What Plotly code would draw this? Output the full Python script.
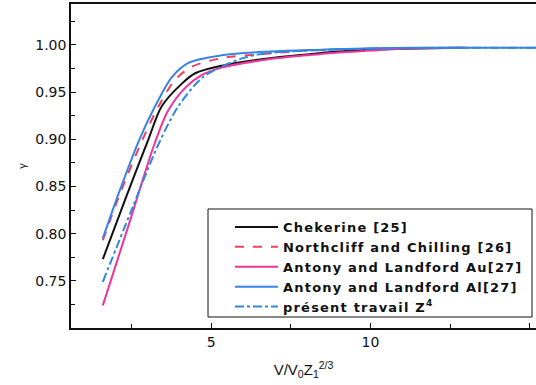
import plotly.graph_objects as go

# Series data (x = V/V0 Z1^(2/3), y = gamma)
chek_x = [1.6, 2.3, 3.03, 3.45, 4.08, 4.5, 5.33, 6.85, 8.0, 9.0, 10.0, 11.0, 12.8]
chek_y = [0.773, 0.836, 0.900, 0.935, 0.959, 0.970, 0.978, 0.986, 0.990, 0.993, 0.995, 0.996, 0.997]

north_x = [1.6, 2.1, 2.85, 3.35, 3.87, 4.4, 5.33, 6.5, 8.0, 10.0, 13.0]
north_y = [0.793, 0.839, 0.900, 0.935, 0.963, 0.977, 0.986, 0.990, 0.994, 0.996, 0.997]

au_x = [1.6, 2.4, 3.22, 3.66, 4.2, 4.7, 5.33, 6.85, 8.0, 9.0, 10.0, 11.0, 13.0]
au_y = [0.724, 0.808, 0.895, 0.931, 0.955, 0.968, 0.976, 0.985, 0.989, 0.992, 0.994, 0.996, 0.997]

al_x = [1.6, 2.1, 2.75, 3.24, 3.77, 4.29, 5.33, 6.85, 8.5, 10.0, 12.0, 15.2]
al_y = [0.795, 0.843, 0.900, 0.935, 0.966, 0.981, 0.989, 0.993, 0.995, 0.9965, 0.997, 0.997]

pres_x = [1.6, 2.5, 3.35, 3.97, 4.71, 5.33, 6.0, 6.5, 7.0, 8.0, 10.0, 12.0, 15.2]
pres_y = [0.749, 0.825, 0.895, 0.935, 0.965, 0.977, 0.986, 0.990, 0.992, 0.994, 0.996, 0.997, 0.997]

names = ["Chekerine [25]", "Northcliff and Chilling [26]", "Antony and Landford Au[27]",
         "Antony and Landford Al[27]", "présent travail Z<sup>4</sup>"]

x_ticks = [5, 10, 15]
y_ticks = [0.75, 0.80, 0.85, 0.90, 0.95, 1.00]

fig = go.Figure()
series = [
    (chek_x, chek_y, "#111111", "solid"),
    (north_x, north_y, "#f0405a", "dash"),
    (au_x, au_y, "#ee3399", "solid"),
    (al_x, al_y, "#3a82e6", "solid"),
    (pres_x, pres_y, "#2a8ae0", "dashdot"),
]
for (xs, ys, col, dash), nm in zip(series, names):
    fig.add_trace(go.Scatter(x=xs, y=ys, mode="lines",
                             name='<span style="letter-spacing:1.2px">' + nm + '</span>',
                             line=dict(color=col, width=2, dash=dash, shape="spline", smoothing=0.9)))

# legend frame (pixel box converted to paper coords of the plot area)
L, T, W, H = 71, 4, 465, 324
bx0, bx1, by0, by1 = 208, 532, 209, 317
fig.add_shape(type="rect", xref="paper", yref="paper",
              x0=(bx0 - L) / W, x1=(bx1 - L) / W,
              y0=(T + H - by1) / H, y1=(T + H - by0) / H,
              line=dict(color="#111111", width=1), fillcolor="white", layer="above")

axis_font = dict(family="DejaVu Sans", size=14, color="#111111")
fig.update_layout(
    width=536, height=385,
    margin=dict(l=L, r=0, t=T, b=57),
    paper_bgcolor="white", plot_bgcolor="white",
    showlegend=True,
    legend=dict(x=(230 - L) / W, y=(T + H - 212) / H, xanchor="left", yanchor="top",
                bgcolor="rgba(0,0,0,0)", borderwidth=0,
                font=dict(family="DejaVu Sans", size=13, color="#111111", weight="bold"),
                tracegroupgap=0, itemwidth=43),
    xaxis=dict(range=[0.6, 15.2], tickvals=x_ticks, ticktext=[str(v) for v in x_ticks],
               ticks="inside", ticklen=5, tickcolor="#111111",
               minor=dict(ticks="inside", tickvals=[2.5, 7.5, 12.5], ticklen=4, tickcolor="#111111"),
               showline=True, linecolor="#111111", linewidth=1.5, mirror=True,
               showgrid=False, zeroline=False, tickfont=axis_font,
               title=dict(text="V/V<sub>0</sub>Z<sub>1</sub><sup>2/3</sup>",
                          font=dict(family="Liberation Sans, Arial", size=15, color="#111111"),
                          standoff=16)),
    yaxis=dict(range=[0.70, 1.0434], tickvals=y_ticks, ticktext=["%.2f" % v for v in y_ticks],
               ticks="inside", ticklen=5, tickcolor="#111111",
               minor=dict(ticks="inside", tickvals=[0.725, 0.775, 0.825, 0.875, 0.925, 0.975, 1.025],
                          ticklen=4, tickcolor="#111111"),
               showline=True, linecolor="#111111", linewidth=1.5, mirror=False,
               showgrid=False, zeroline=False, tickfont=axis_font,
               title=dict(text="γ", font=dict(family="Liberation Sans, Arial", size=11, color="#111111"),
                          standoff=6)),
)

fig.write_html("out.html")
